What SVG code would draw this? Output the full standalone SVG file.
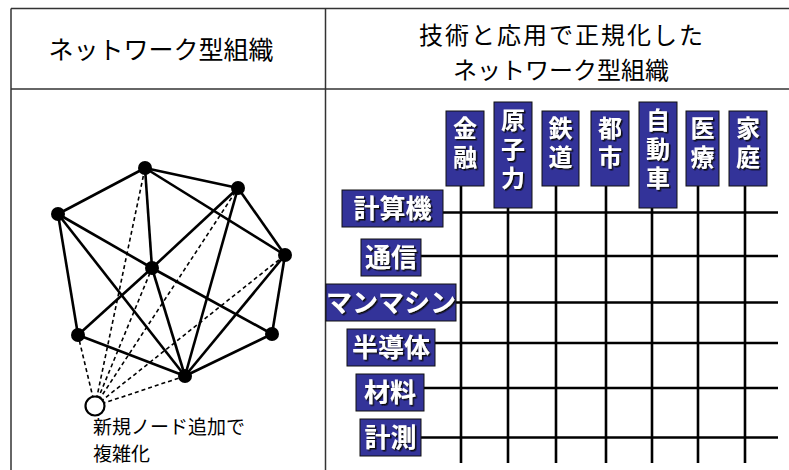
<svg xmlns="http://www.w3.org/2000/svg" width="789" height="470" viewBox="0 0 789 470">
<defs>
<filter id="sh" x="-20%" y="-20%" width="140%" height="140%">
<feDropShadow dx="1.5" dy="1.5" stdDeviation="0.4" flood-color="#111" flood-opacity="1"/>
</filter>
</defs>
<style>
.tbl{stroke:#333;stroke-width:1.5;fill:none}
.hd{font-family:"Noto Sans CJK JP","Noto Sans",sans-serif;font-size:25px;fill:#000;text-anchor:middle}
.note{font-family:"Noto Sans CJK JP","Noto Sans",sans-serif;font-size:19px;fill:#000}
.e{stroke:#000;stroke-width:2.6;fill:none}
.d{stroke:#000;stroke-width:1.6;stroke-dasharray:4 3;fill:none}
.n{fill:#000}
.box{fill:#333399;stroke:#111;stroke-width:1}
.lb{font-family:"Noto Sans CJK JP","Noto Sans",sans-serif;font-weight:bold;fill:#fff;text-anchor:middle;filter:url(#sh)}
.cl{font-size:24px;writing-mode:vertical-rl;text-anchor:start;letter-spacing:5px}
.rl{font-size:26px}
.g{stroke:#000;stroke-width:2.6;fill:none}
</style>
<g id="table">
<line class="tbl" x1="11" y1="8.5" x2="789" y2="8.5"/>
<line class="tbl" x1="11" y1="89" x2="789" y2="89"/>
<line class="tbl" x1="11" y1="8.5" x2="11" y2="470"/>
<line class="tbl" x1="325.5" y1="8.5" x2="325.5" y2="470"/>
<text class="hd" x="161" y="59">ネットワーク型組織</text>
<text class="hd" x="562" y="44" style="font-size:24px;letter-spacing:2px">技術と応用で正規化した</text>
<text class="hd" x="561" y="79" style="font-size:24px">ネットワーク型組織</text>
</g>
<g id="connectors">
<line class="e" x1="145" y1="168" x2="58" y2="214"/>
<line class="e" x1="145" y1="168" x2="238" y2="188"/>
<line class="e" x1="145" y1="168" x2="152" y2="268"/>
<line class="e" x1="145" y1="168" x2="285" y2="255"/>
<line class="e" x1="58" y1="214" x2="152" y2="268"/>
<line class="e" x1="58" y1="214" x2="78" y2="335"/>
<line class="e" x1="58" y1="214" x2="185" y2="376"/>
<line class="e" x1="238" y1="188" x2="285" y2="255"/>
<line class="e" x1="238" y1="188" x2="152" y2="268"/>
<line class="e" x1="152" y1="268" x2="78" y2="335"/>
<line class="e" x1="238" y1="188" x2="185" y2="376"/>
<line class="e" x1="152" y1="268" x2="185" y2="376"/>
<line class="e" x1="152" y1="268" x2="272" y2="334"/>
<line class="e" x1="285" y1="255" x2="272" y2="334"/>
<line class="e" x1="285" y1="255" x2="185" y2="376"/>
<line class="e" x1="78" y1="335" x2="185" y2="376"/>
<line class="e" x1="272" y1="334" x2="185" y2="376"/>
<line class="d" x1="95" y1="406" x2="78" y2="335"/>
<line class="d" x1="95" y1="406" x2="145" y2="168"/>
<line class="d" x1="95" y1="406" x2="152" y2="268"/>
<line class="d" x1="95" y1="406" x2="238" y2="188"/>
<line class="d" x1="95" y1="406" x2="285" y2="255"/>
<line class="d" x1="95" y1="406" x2="185" y2="376"/>
</g>
<g id="nodeA"><circle class="n" cx="145" cy="168" r="7"/></g>
<g id="nodeB"><circle class="n" cx="58" cy="214" r="7"/></g>
<g id="nodeC"><circle class="n" cx="238" cy="188" r="7"/></g>
<g id="nodeD"><circle class="n" cx="152" cy="268" r="7"/></g>
<g id="nodeE"><circle class="n" cx="285" cy="255" r="7"/></g>
<g id="nodeF"><circle class="n" cx="78" cy="335" r="7"/></g>
<g id="nodeG"><circle class="n" cx="272" cy="334" r="7"/></g>
<g id="nodeH"><circle class="n" cx="185" cy="376" r="7"/></g>
<g id="nodeNew">
<circle cx="95" cy="406" r="9.5" fill="#fff" stroke="#000" stroke-width="2.2"/>
<text class="note" x="93" y="434">新規ノード追加で</text>
<text class="note" x="93" y="461">複雑化</text>
</g>
<g id="grid">
<line class="g" x1="443" y1="212.5" x2="778" y2="212.5"/>
<line class="g" x1="421" y1="256" x2="778" y2="256"/>
<line class="g" x1="456" y1="302.5" x2="778" y2="302.5"/>
<line class="g" x1="435" y1="343" x2="778" y2="343"/>
<line class="g" x1="424" y1="388" x2="778" y2="388"/>
<line class="g" x1="421" y1="437.5" x2="778" y2="437.5"/>
<line class="g" x1="461" y1="186" x2="461" y2="463"/>
<line class="g" x1="508" y1="208" x2="508" y2="463"/>
<line class="g" x1="556" y1="186" x2="556" y2="463"/>
<line class="g" x1="606" y1="186" x2="606" y2="463"/>
<line class="g" x1="652" y1="208" x2="652" y2="463"/>
<line class="g" x1="698" y1="186" x2="698" y2="463"/>
<line class="g" x1="745" y1="186" x2="745" y2="463"/>
</g>
<g id="col-kinyu"><rect class="box" x="446" y="111" width="38" height="75"/>
<text class="lb cl" x="465" y="116">金融</text></g>
<g id="col-genshiryoku"><rect class="box" x="494" y="102" width="38" height="106"/>
<text class="lb cl" x="513" y="108">原子力</text></g>
<g id="col-tetsudo"><rect class="box" x="542" y="111" width="37" height="75"/>
<text class="lb cl" x="560.5" y="116">鉄道</text></g>
<g id="col-toshi"><rect class="box" x="591" y="111" width="38" height="75"/>
<text class="lb cl" x="610" y="116">都市</text></g>
<g id="col-jidosha"><rect class="box" x="639" y="102" width="38" height="106"/>
<text class="lb cl" x="658" y="108">自動車</text></g>
<g id="col-iryo"><rect class="box" x="686" y="111" width="33" height="75"/>
<text class="lb cl" x="702.5" y="116">医療</text></g>
<g id="col-katei"><rect class="box" x="729" y="111" width="38" height="75"/>
<text class="lb cl" x="748" y="116">家庭</text></g>
<g id="row-keisanki"><rect class="box" x="342" y="190" width="101" height="37"/>
<text class="lb rl" x="392.5" y="218">計算機</text></g>
<g id="row-tsushin"><rect class="box" x="361" y="239" width="60" height="37"/>
<text class="lb rl" x="391" y="267">通信</text></g>
<g id="row-manmachine"><rect class="box" x="326" y="284" width="130" height="37"/>
<text class="lb rl" x="391" y="312">マンマシン</text></g>
<g id="row-handotai"><rect class="box" x="347" y="329" width="88" height="37"/>
<text class="lb rl" x="391" y="357">半導体</text></g>
<g id="row-zairyo"><rect class="box" x="356" y="374" width="68" height="37"/>
<text class="lb rl" x="390" y="402">材料</text></g>
<g id="row-keisoku"><rect class="box" x="360" y="419" width="61" height="37"/>
<text class="lb rl" x="390.5" y="447">計測</text></g>
</svg>
